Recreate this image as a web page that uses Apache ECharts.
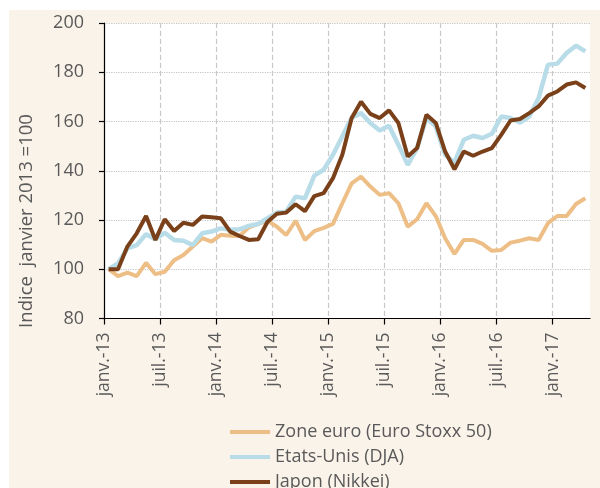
<!DOCTYPE html>
<html>
<head>
<meta charset="utf-8">
<script src="https://cdn.jsdelivr.net/npm/echarts@6/dist/echarts.min.js"></script>
<style>
html,body{margin:0;padding:0;background:#fff;}
#chart{width:600px;height:488px;}
</style>
</head>
<body>
<div id="chart"></div>
<script>
// Months (Jan 2013 - Apr 2017), points plotted at mid-month
const months = [
  '2013-01','2013-02','2013-03','2013-04','2013-05','2013-06','2013-07','2013-08','2013-09','2013-10','2013-11','2013-12',
  '2014-01','2014-02','2014-03','2014-04','2014-05','2014-06','2014-07','2014-08','2014-09','2014-10','2014-11','2014-12',
  '2015-01','2015-02','2015-03','2015-04','2015-05','2015-06','2015-07','2015-08','2015-09','2015-10','2015-11','2015-12',
  '2016-01','2016-02','2016-03','2016-04','2016-05','2016-06','2016-07','2016-08','2016-09','2016-10','2016-11','2016-12',
  '2017-01','2017-02','2017-03','2017-04'
];
const tickMonths = ['2013-01','2013-07','2014-01','2014-07','2015-01','2015-07','2016-01','2016-07','2017-01'];
const tickLabels = ['janv.-13','juil.-13','janv.-14','juil.-14','janv.-15','juil.-15','janv.-16','juil.-16','janv.-17'];
const yTicks = [80, 100, 120, 140, 160, 180, 200];

const seriesNames = ['Zone euro (Euro Stoxx 50)', 'Etats-Unis (DJA)', 'Japon (Nikkei)'];

const euro = [100, 97.2, 98.6, 97.2, 102.6, 98, 99, 103.7, 105.8, 109.2, 112.6, 111.2,
  114, 113.6, 113.5, 117, 118.4, 119.7, 117.3, 113.9, 119.7, 111.9, 115.5, 116.8,
  118.4, 126.8, 134.9, 137.6, 133.6, 130.2, 130.9, 126.8, 117.3, 120.3, 126.8, 121.6,
  112.6, 106.2, 111.9, 111.9, 110.3, 107.5, 107.8, 110.8, 111.6, 112.6, 111.9, 118.7,
  121.6, 121.6, 126.5, 128.8];
const usa = [100, 102.4, 108.5, 109.8, 114.2, 112.2, 114.8, 111.9, 111.6, 109.8, 114.6, 115.3,
  116.6, 116, 116.2, 117.6, 118.4, 120.7, 123, 123.4, 129.5, 128.8, 138, 140.4,
  146.5, 154, 161.5, 163.4, 159.4, 156.3, 158.3, 150.5, 142.4, 149.2, 161.4, 158,
  146.5, 143.3, 152.6, 154.2, 153.3, 155, 162, 161.4, 159.6, 162, 169.5, 183.1,
  183.5, 187.8, 190.8, 188.5];
const japan = [100, 100, 109.2, 114.6, 121.6, 111.9, 120.3, 115.5, 118.9, 118, 121.4, 121.1,
  120.7, 115.3, 113.5, 111.9, 112.2, 119.3, 122.5, 123, 126.4, 123.6, 129.7, 130.9,
  137, 146.5, 161.4, 168, 163.1, 161.4, 164.5, 159.4, 145.8, 149.2, 162.7, 159.4,
  147.8, 140.6, 147.8, 146.1, 147.8, 149.2, 154.6, 160.4, 161, 163.4, 166.1, 170.5,
  172.2, 175, 175.9, 173.6];

const colors = ['#EDBE86', '#B8DCE8', '#7A4019'];
const textColor = '#595959';
const font = '"Open Sans", "Noto Sans", sans-serif';

const tickPos = tickMonths.map(m => months.indexOf(m));
const labelAt = {};
tickPos.forEach((p, k) => { labelAt[p] = tickLabels[k]; });
const toPoints = arr => arr.map((v, i) => [i + 0.5, v]);

const chart = echarts.init(document.getElementById('chart'), null, {renderer: 'canvas'});
chart.setOption({
  animation: false,
  backgroundColor: '#FAF3E9',
  textStyle: {fontFamily: font},
  graphic: [
    {type: 'rect', shape: {x: 0, y: 0, width: 600, height: 10}, style: {fill: '#fff'}, z: 100},
    {type: 'rect', shape: {x: 0, y: 0, width: 9, height: 488}, style: {fill: '#fff'}, z: 100},
    {type: 'text', x: 27, y: 221, rotation: Math.PI / 2,
      style: {text: 'Indice  janvier 2013 =100', fill: textColor, font: '18.5px "Open Sans", sans-serif',
        textAlign: 'center', textVerticalAlign: 'middle'}}
  ],
  grid: {left: 104, right: 10, top: 23, bottom: 169.5, show: true, backgroundColor: '#fff', borderWidth: 0},
  legend: {
    orient: 'vertical', left: 230, top: 422, height: 120, itemWidth: 40, itemHeight: 4, itemGap: 5, icon: 'rect',
    padding: 0,
    data: seriesNames,
    textStyle: {color: textColor, fontSize: 18, lineHeight: 20, fontFamily: font}
  },
  xAxis: {
    type: 'value', min: 0, max: months.length,
    axisLine: {show: true, onZero: false, lineStyle: {color: '#000', width: 1.2}},
    axisTick: {show: true, inside: false, length: 6, customValues: tickPos, lineStyle: {color: '#000', width: 1.2}},
    axisLabel: {customValues: tickPos, rotate: 90, margin: 14, color: textColor, fontSize: 17.5, fontFamily: font,
      formatter: v => labelAt[Math.round(v)] || ''},
    splitLine: {show: true, lineStyle: {color: '#c8c8c8', type: [5, 3], width: 1.2}}
  },
  yAxis: {
    type: 'value', min: yTicks[0], max: yTicks[yTicks.length - 1], interval: 20,
    axisLine: {show: true, lineStyle: {color: '#000', width: 1.2}},
    axisTick: {show: true, inside: false, length: 5, lineStyle: {color: '#000', width: 1.2}},
    axisLabel: {margin: 20, color: textColor, fontSize: 18, fontFamily: font},
    splitLine: {show: true, lineStyle: {color: '#c4c4c4', type: 'dotted', width: 1.2}}
  },
  series: [
    {name: seriesNames[0], type: 'line', data: toPoints(euro), showSymbol: false, symbol: 'none',
      lineStyle: {color: colors[0], width: 4}, itemStyle: {color: colors[0]}, z: 2},
    {name: seriesNames[1], type: 'line', data: toPoints(usa), showSymbol: false, symbol: 'none',
      lineStyle: {color: colors[1], width: 4.5}, itemStyle: {color: colors[1]}, z: 3},
    {name: seriesNames[2], type: 'line', data: toPoints(japan), showSymbol: false, symbol: 'none',
      lineStyle: {color: colors[2], width: 4}, itemStyle: {color: colors[2]}, z: 4}
  ]
});
</script>
</body>
</html>
